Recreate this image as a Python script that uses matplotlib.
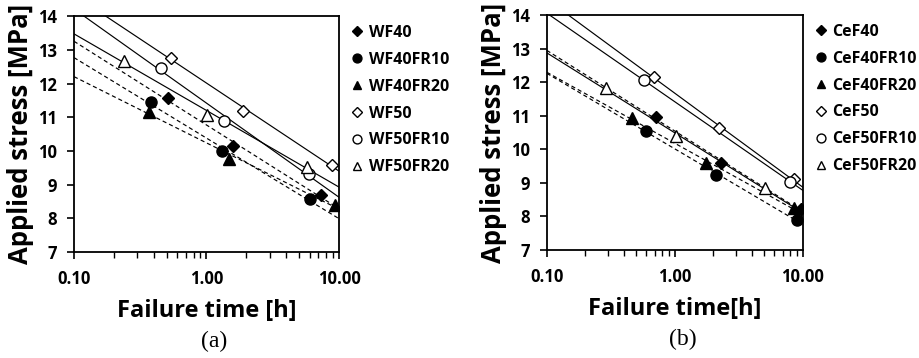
import numpy as np
import matplotlib
matplotlib.use("Agg")
import matplotlib.pyplot as plt

plt.rcParams['font.family'] = ['Open Sans', 'DejaVu Sans']

# panel (a) - wood flour series
wf_labels = ['WF40', 'WF40FR10', 'WF40FR20', 'WF50', 'WF50FR10', 'WF50FR20']
wf_time = [
    [0.51, 1.59, 7.3],
    [0.38, 1.32, 6.04],
    [0.37, 1.49, 9.3],
    [0.54, 1.90, 8.9],
    [0.45, 1.36, 5.94],
    [0.24, 1.01, 5.77],
]
wf_stress = [
    [11.57, 10.14, 8.68],
    [11.44, 9.99, 8.56],
    [11.16, 9.77, 8.39],
    [12.77, 11.18, 9.58],
    [12.47, 10.90, 9.32],
    [12.67, 11.08, 9.52],
]

# panel (b) - cellulose fibre series
cef_labels = ['CeF40', 'CeF40FR10', 'CeF40FR20', 'CeF50', 'CeF50FR10', 'CeF50FR20']
cef_time = [
    [0.71, 2.30, 9.7],
    [0.60, 2.10, 8.97],
    [0.46, 1.74, 8.6],
    [0.69, 2.23, 8.5],
    [0.57, 8.0],
    [0.29, 1.02, 5.1],
]
cef_stress = [
    [10.95, 9.58, 8.21],
    [10.54, 9.23, 7.89],
    [10.94, 9.58, 8.24],
    [12.16, 10.62, 9.10],
    [12.06, 9.03],
    [11.82, 10.38, 8.84],
]

markers = ['D', 'o', '^', 'D', 'o', '^']
filled = [True, True, True, False, False, False]
msizes = [6.5, 8, 8, 6.5, 8, 8]
y_ticks = [7, 8, 9, 10, 11, 12, 13, 14]
x_ticks = [0.1, 1, 10]
x_tick_labels = ['0.10', '1.00', '10.00']

fig = plt.figure(figsize=(9.19, 3.58), dpi=100)
ax_a = fig.add_axes([0.0805, 0.296, 0.2884, 0.659])
ax_b = fig.add_axes([0.595, 0.302, 0.2786, 0.656])


def draw_panel(ax, labels, times, stresses, xlabel, caption):
    t_fit = np.array([0.1, 10.0])
    for i in range(len(labels)):
        t = np.array(times[i])
        s = np.array(stresses[i])
        # logarithmic trendline, drawn over the whole axis range
        k, b = np.polyfit(np.log10(t), s, 1)
        ls = (0, (3.5, 2.5)) if filled[i] else '-'
        ax.plot(t_fit, k * np.log10(t_fit) + b, color='black', lw=0.85, ls=ls, zorder=2)
    for i in range(len(labels)):
        face = 'black' if filled[i] else 'white'
        ax.plot(times[i], stresses[i], ls='none', marker=markers[i], ms=msizes[i],
                mfc=face, mec='black', mew=1.0, zorder=3, label=labels[i])
    ax.set_xscale('log')
    ax.set_xlim(0.1, 10)
    ax.set_ylim(7, 14)
    ax.set_yticks(y_ticks)
    ax.set_yticklabels([str(v) for v in y_ticks], fontsize=12, fontweight='bold')
    ax.set_xticks(x_ticks)
    ax.set_xticklabels(x_tick_labels, fontsize=12, fontweight='bold')
    ax.tick_params(axis='both', which='major', direction='out', length=5, width=1.2)
    ax.tick_params(axis='x', which='major', pad=8)
    ax.tick_params(axis='x', which='minor', direction='out', length=4, width=1.0)
    ax.tick_params(axis='y', which='major', pad=7)
    for sp in ax.spines.values():
        sp.set_linewidth(1.3)
    ax.set_xlabel(xlabel, fontsize=17, fontweight='bold', labelpad=8)
    ax.set_ylabel('Applied stress [MPa]', fontsize=18.5, fontweight='bold', labelpad=3)
    ax.legend(loc='upper left', bbox_to_anchor=(1.0, 1.01), frameon=False,
              handlelength=0.9, handletextpad=0.25, labelspacing=0.68,
              borderaxespad=0.3, markerscale=0.8,
              prop={'size': 11.5, 'weight': 'bold'})
    ax.text(0.53, -0.38, caption, transform=ax.transAxes, ha='center', va='center',
            fontsize=17, family=['Liberation Serif', 'DejaVu Serif'])


draw_panel(ax_a, wf_labels, wf_time, wf_stress, 'Failure time [h]', '(a)')
draw_panel(ax_b, cef_labels, cef_time, cef_stress, 'Failure time[h]', '(b)')

fig.savefig('out.png', dpi=100)
